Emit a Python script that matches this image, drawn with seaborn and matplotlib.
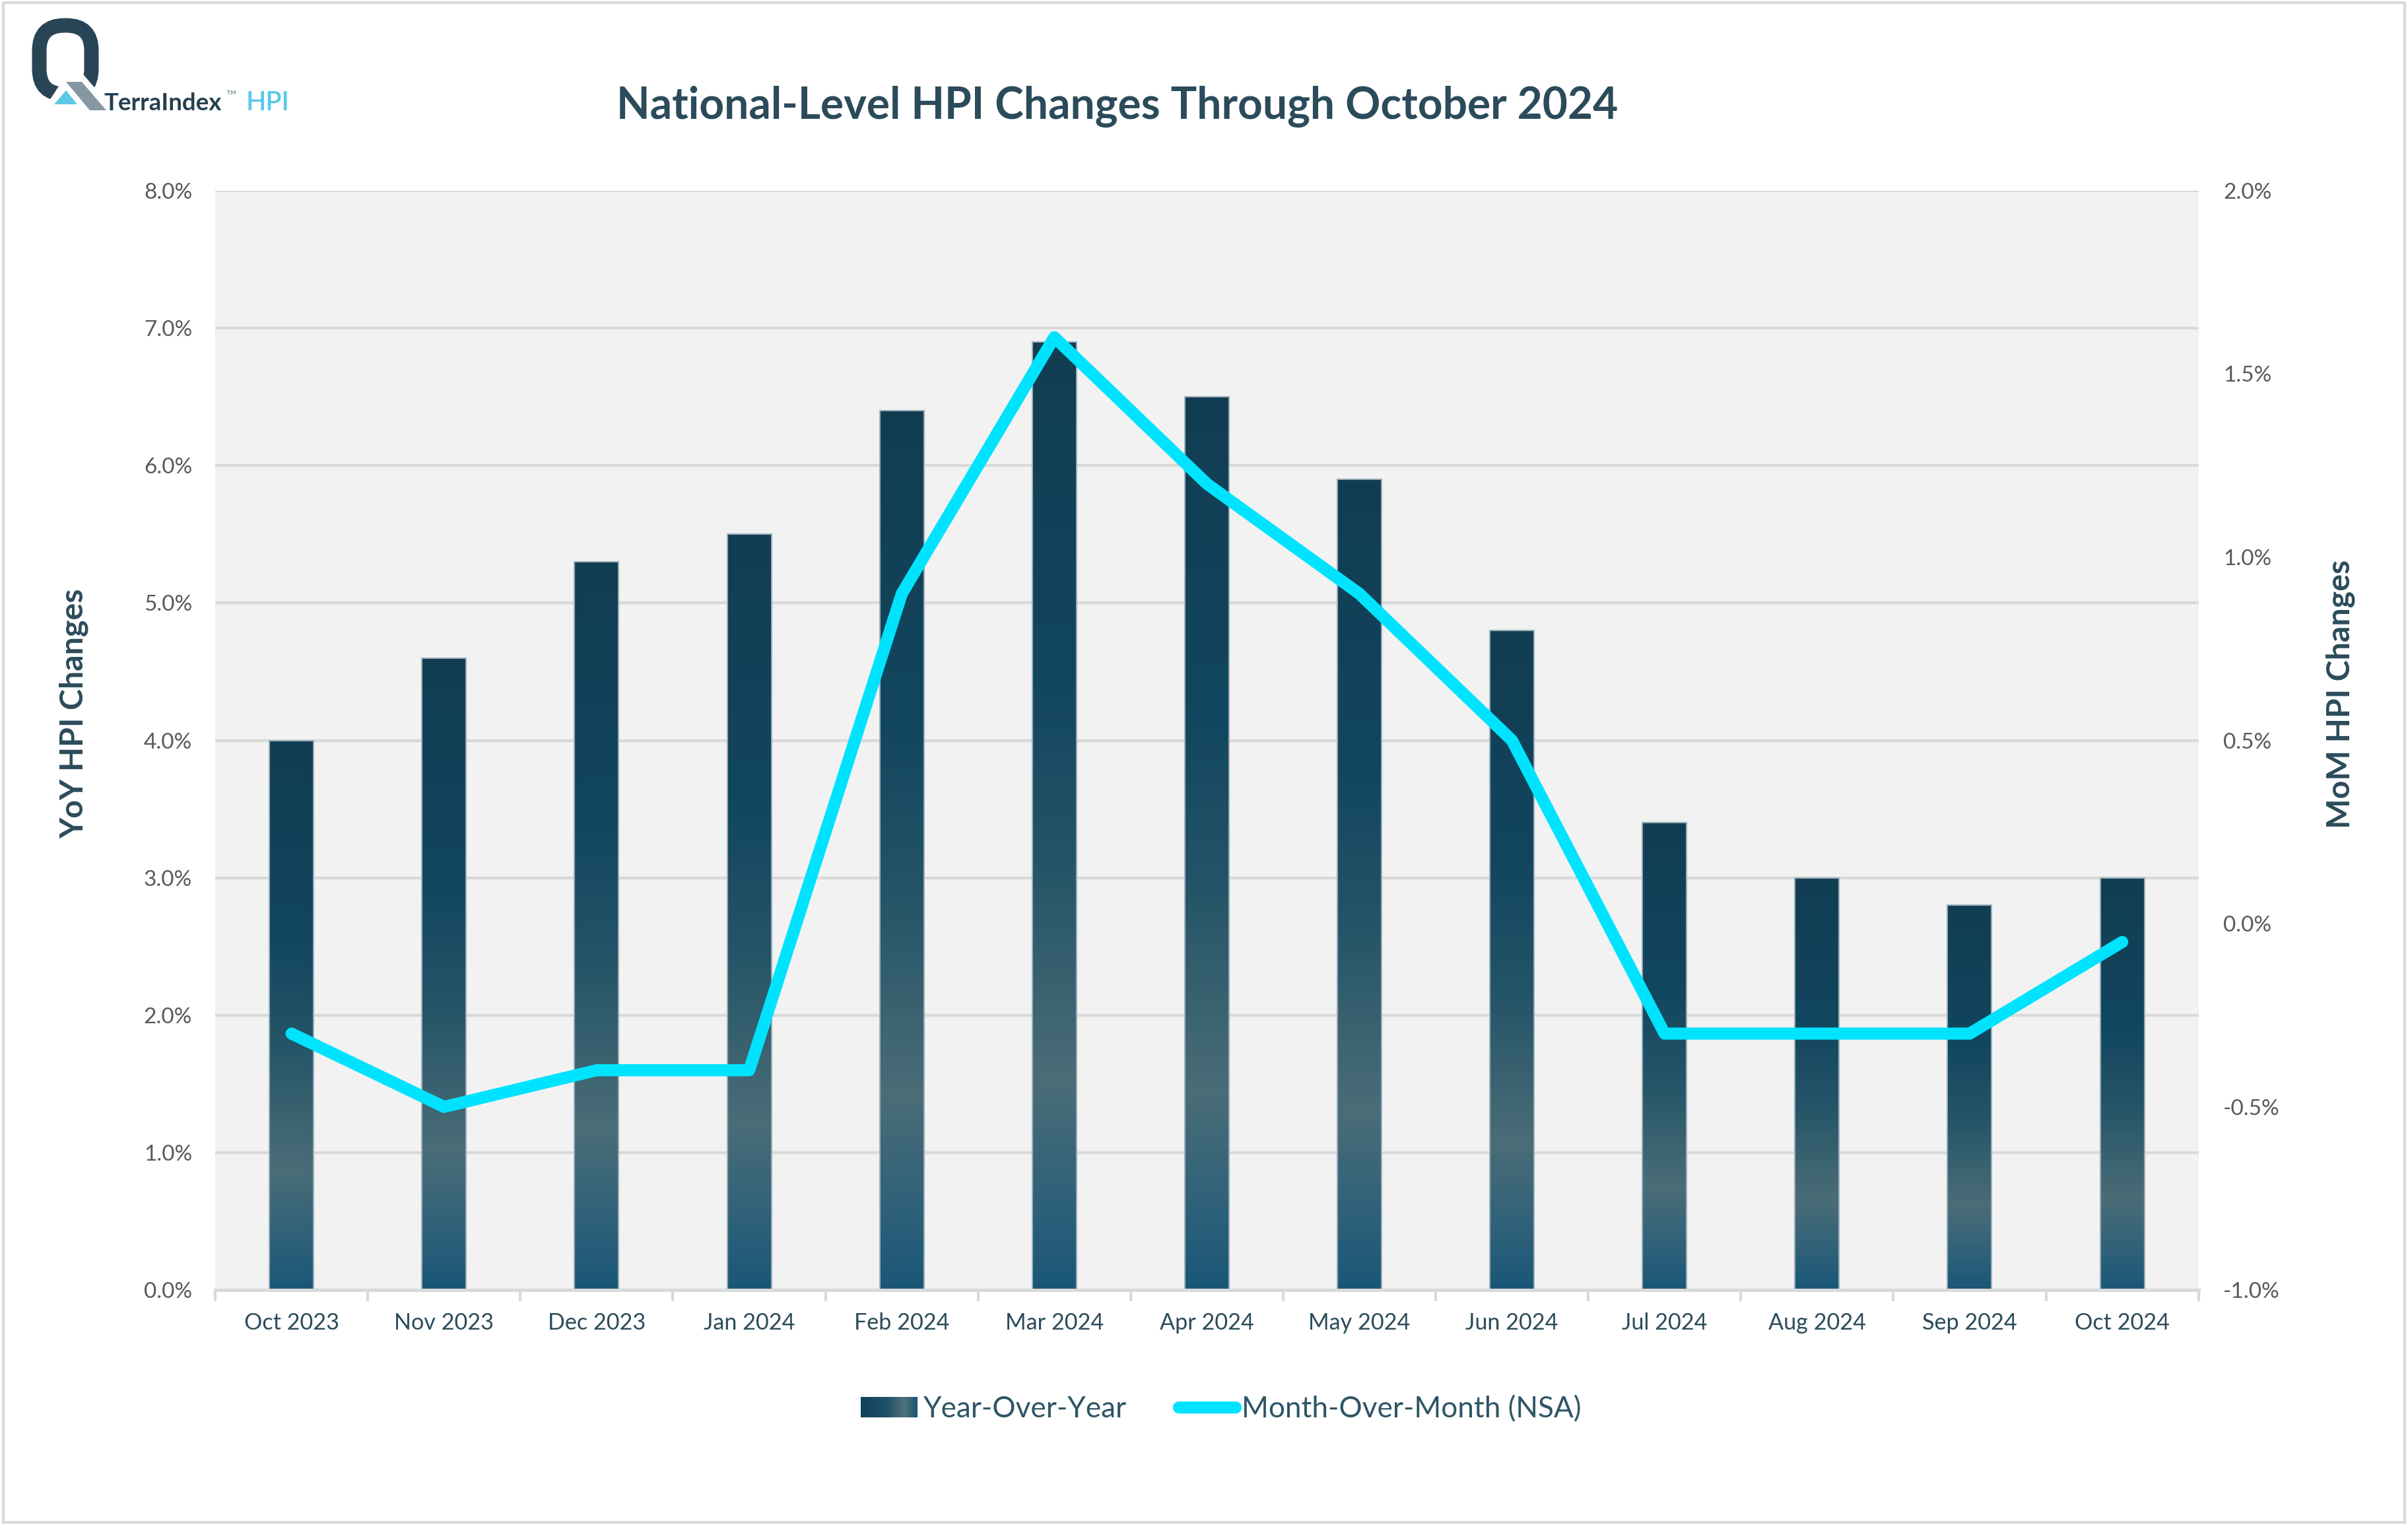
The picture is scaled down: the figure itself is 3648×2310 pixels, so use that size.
import numpy as np
import pandas as pd
import matplotlib
matplotlib.use("Agg")
import matplotlib.pyplot as plt
import seaborn as sns
from matplotlib.colors import LinearSegmentedColormap
from matplotlib.patches import FancyBboxPatch, Polygon, Rectangle
from matplotlib.legend_handler import HandlerBase
from matplotlib.lines import Line2D

# ---------------- data ----------------
months = ["Oct 2023", "Nov 2023", "Dec 2023", "Jan 2024", "Feb 2024", "Mar 2024",
          "Apr 2024", "May 2024", "Jun 2024", "Jul 2024", "Aug 2024", "Sep 2024", "Oct 2024"]
yoy = [4.0, 4.6, 5.3, 5.5, 6.4, 6.9, 6.5, 5.9, 4.8, 3.4, 3.0, 2.8, 3.0]
mom = [-0.3, -0.5, -0.4, -0.4, 0.9, 1.6, 1.2, 0.9, 0.5, -0.3, -0.3, -0.3, -0.05]
yoy_ticks = [0, 1, 2, 3, 4, 5, 6, 7, 8]
mom_ticks = [-1.0, -0.5, 0.0, 0.5, 1.0, 1.5, 2.0]
title = "National-Level HPI Changes Through October 2024"
yoy_label = "Year-Over-Year"
mom_label = "Month-Over-Month (NSA)"

# ---------------- style ----------------
sns.set_theme(style="white")
plt.rcParams['font.family'] = ['Lato', 'DejaVu Sans']

DARK = "#2b4b5a"
TICK = "#595959"
CYAN = "#00e3ff"
GRID = "#d9d9d9"

bar_cmap = LinearSegmentedColormap.from_list(
    "bar", [(0.0, "#123d52"), (0.35, "#11465f"), (0.55, "#245468"),
            (0.78, "#4a6d77"), (0.9, "#31627a"), (1.0, "#1a5777")])
leg_cmap = LinearSegmentedColormap.from_list(
    "leg", [(0.0, "#10425b"), (0.45, "#1e4f65"), (0.78, "#4f727b"), (1.0, "#1c5572")])

W, H = 3648, 2310
fig = plt.figure(figsize=(W / 300, H / 300), dpi=300)
fig.patch.set_facecolor("white")

ax = fig.add_axes([0.0894, 0.154, 0.8236, 0.721])
ax.set_facecolor("#f2f2f2")

df = pd.DataFrame({"month": months, "yoy": yoy})
sns.barplot(data=df, x="month", y="yoy", ax=ax, width=0.29, color="#11465f",
            saturation=1, errorbar=None, edgecolor="#9aaeb8", linewidth=0.5)

grad = np.linspace(0, 1, 256).reshape(-1, 1)
for p in list(ax.patches):
    x0, w, h = p.get_x(), p.get_width(), p.get_height()
    ax.imshow(grad, cmap=bar_cmap, extent=[x0, x0 + w, 0, h], origin="upper",
              aspect="auto", interpolation="bilinear", zorder=1.5)
    p.set_facecolor("none")
    p.set_zorder(2)

ax.set_xlim(-0.5, len(months) - 0.5)
ax.set_ylim(0, 8)
ax.set_yticks(yoy_ticks)
ax.set_yticklabels([f"{v:.1f}%" for v in yoy_ticks])
ax.set_xticks(np.arange(-0.5, len(months), 1.0), minor=True)
ax.set_xlabel("")
ax.set_ylabel("")
ax.yaxis.grid(True, color=GRID, lw=1.0)
ax.xaxis.grid(False)
ax.set_axisbelow(True)
for s in ["left", "right", "top"]:
    ax.spines[s].set_visible(False)
ax.spines["bottom"].set_color(GRID)
ax.spines["bottom"].set_linewidth(1.2)
ax.tick_params(axis="y", length=0, pad=8.4, labelsize=8, labelcolor=TICK)
ax.tick_params(axis="x", which="major", length=0, pad=8, labelsize=8.2, labelcolor=DARK)
ax.tick_params(axis="x", which="minor", bottom=True, length=4, width=1, color=GRID)

ax2 = ax.twinx()
sns.lineplot(x=np.arange(len(months)), y=mom, ax=ax2, color=CYAN, lw=4.4,
             solid_capstyle="round", solid_joinstyle="round")
ax2.set_ylim(-1, 2)
ax2.set_yticks(mom_ticks)
ax2.set_yticklabels([f"{v:.1f}%" for v in mom_ticks])
ax2.set_ylabel("")
for s in ax2.spines.values():
    s.set_visible(False)
ax2.tick_params(axis="y", length=0, pad=9, labelsize=8, labelcolor=TICK)

# ---------------- texts ----------------
fig.text(0.464, 0.930, title, ha="center", va="center", fontsize=15.8,
         fontweight="bold", color=DARK)
fig.text(0.0307, 0.532, "YoY HPI Changes", rotation=90, ha="center", va="center",
         fontsize=11.6, fontweight="bold", color=DARK)
fig.text(0.972, 0.545, "MoM HPI Changes", rotation=90, ha="center", va="center",
         fontsize=11.6, fontweight="bold", color=DARK)

# ---------------- legend ----------------
class GradientHandler(HandlerBase):
    def create_artists(self, legend, orig_handle, xdescent, ydescent, width,
                       height, fontsize, trans):
        n = 40
        arts = []
        for i in range(n):
            r = Rectangle((-xdescent + i * width / n, -ydescent), width / n * 1.05,
                          height, facecolor=leg_cmap(i / (n - 1)), edgecolor="none",
                          transform=trans)
            arts.append(r)
        return arts

proxy_bar = Rectangle((0, 0), 1, 1)
proxy_line = Line2D([0], [0], color=CYAN, lw=4.4, solid_capstyle="round")
fig.legend([proxy_bar, proxy_line], [yoy_label, mom_label], loc="center",
           bbox_to_anchor=(0.507, 0.076), ncol=2, frameon=False, fontsize=10.6,
           labelcolor="#2f5565", handlelength=1.95, handleheight=0.7,
           handletextpad=0.2, columnspacing=1.8,
           handler_map={proxy_bar: GradientHandler()})

# ---------------- logo and border (pixel overlay) ----------------
ov = fig.add_axes([0, 0, 1, 1], zorder=10)
ov.set_xlim(0, W)
ov.set_ylim(H, 0)
ov.patch.set_visible(False)
ov.axis("off")

ov.add_patch(Rectangle((5, 4), W - 10, H - 8, fill=False, edgecolor=GRID, lw=1.0))

ring = FancyBboxPatch((59.5, 38.5), 79, 104,
                      boxstyle="round,pad=0,rounding_size=38",
                      fill=False, edgecolor="#284555", lw=22 * 72 / 300)
ov.add_patch(ring)
ov.add_patch(Polygon([(109, 100), (115, 100), (180, 175), (60, 175)],
                     closed=True, facecolor="white", edgecolor="none"))
ov.add_patch(Polygon([(100, 124), (124, 124), (161, 167), (136, 167)],
                     closed=True, facecolor="#8497a3", edgecolor="none"))
ov.add_patch(Polygon([(100, 137), (117, 158), (82, 158)],
                     closed=True, facecolor="#5bc8e8", edgecolor="none"))
ov.text(157, 167, "TerraIndex", fontsize=8.8, fontweight="bold", color="#263f4f",
        ha="left", va="baseline")
ov.text(342, 136, "\u2122", fontsize=5, color="#8497a3", ha="left", va="top")
ov.text(373, 167, "HPI", fontsize=9.5, fontweight="semibold", color="#58c9ea",
        ha="left", va="baseline")

fig.savefig("out.png", dpi=300, facecolor="white")
